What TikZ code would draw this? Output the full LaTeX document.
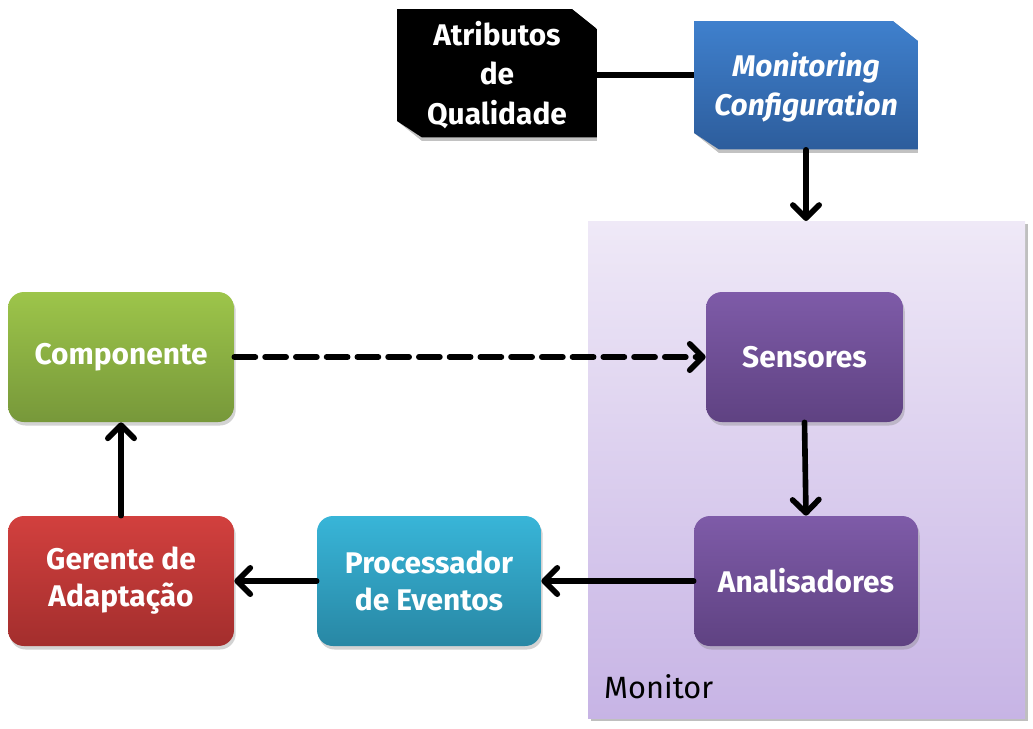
\documentclass[tikz,border=0pt]{standalone}
\usepackage{fontspec}
\setmainfont{Fira Sans}
\usetikzlibrary{arrows.meta,shadows}

\definecolor{violetA}{HTML}{7E5BA8}
\definecolor{violetB}{HTML}{5F4282}
\definecolor{greenA}{HTML}{9DC54A}
\definecolor{greenB}{HTML}{77983A}
\definecolor{redA}{HTML}{D2403E}
\definecolor{redB}{HTML}{A32E2D}
\definecolor{cyanA}{HTML}{38B5D8}
\definecolor{cyanB}{HTML}{2887A4}
\definecolor{blueA}{HTML}{3F80CD}
\definecolor{blueB}{HTML}{2D5D9C}
\definecolor{lilacA}{HTML}{EFE9F7}
\definecolor{lilacB}{HTML}{C7B4E5}

\begin{document}
\begin{tikzpicture}[x=0.02cm,y=-0.02cm,
  >={Straight Barb[round,length=7.5pt,width=15pt]},
  box/.style={rounded corners=9pt, minimum width=4.5cm, minimum height=2.6cm,
    align=center, text=white, font=\fontsize{17}{21}\selectfont\bfseries,
    drop shadow={shadow xshift=1pt, shadow yshift=-2pt, opacity=0.35}},
  snipbox/.style={minimum width=4cm, minimum height=2.64cm, inner sep=0pt,
    align=center, text=white, font=\fontsize{17}{22.5}\selectfont\bfseries,
    path picture={
      \fill[black!40, opacity=0.6, xshift=1pt, yshift=-2pt]
        (path picture bounding box.north west)
        -- ([xshift=-0.5cm]path picture bounding box.north east)
        -- ([yshift=-0.4cm]path picture bounding box.north east)
        -- (path picture bounding box.south east)
        -- ([xshift=0.5cm]path picture bounding box.south west)
        -- ([yshift=0.4cm]path picture bounding box.south west) -- cycle;
      \shade[#1]
        (path picture bounding box.north west)
        -- ([xshift=-0.5cm]path picture bounding box.north east)
        -- ([yshift=-0.4cm]path picture bounding box.north east)
        -- ([yshift=2pt]path picture bounding box.south east)
        -- ([xshift=0.5cm,yshift=2pt]path picture bounding box.south west)
        -- ([yshift=0.4cm]path picture bounding box.south west) -- cycle;}},
  flow/.style={->, line width=3.2pt, line cap=round}]
\useasboundingbox (0,0) rectangle (1033,728);

% monitor region
\fill[black!25] (591,224) rectangle (1028,721);
\shade[top color=lilacA, bottom color=lilacB] (588,221) rectangle (1025,718);
\node[anchor=south west, font=\fontsize{17.5}{21}\selectfont] (monlabel) at (598,705) {Monitor};
\coordinate (montop) at (806,221);

% nodes
\node[snipbox={top color=black, bottom color=black}] (atrib) at (497,75) {Atributos\\de\\Qualidade};
\node[snipbox={top color=blueA, bottom color=blueB}, minimum width=4.48cm,
  font=\fontsize{17}{22.5}\selectfont\bfseries\itshape] (config) at (806,87) {Monitoring\\Configuration};
\node[box, minimum width=3.94cm, top color=violetA, bottom color=violetB] (sens) at (804.5,357) {Sensores};
\node[box, minimum width=4.48cm, top color=violetA, bottom color=violetB] (anal) at (806,581) {Analisadores};
\node[box, minimum width=4.52cm, top color=greenA, bottom color=greenB] (comp) at (121,357) {Componente};
\node[box, minimum width=4.52cm, top color=redA, bottom color=redB] (ger) at (121,581) {Gerente de\\Adaptação};
\node[box, minimum width=4.48cm, top color=cyanA, bottom color=cyanB] (proc) at (429,581) {Processador\\de Eventos};

% connectors
\draw[line width=3.2pt] (atrib.east) -- (atrib.east -| config.west);
\draw[flow] ([yshift=2pt]config.south) -- (montop);
\draw[flow, dash pattern=on 12pt off 5.5pt] (comp.east) -- (sens.west);
\draw[flow] (sens.south) -- (anal.north);
\draw[flow] (anal.west) -- (proc.east);
\draw[flow] (proc.west) -- (ger.east);
\draw[flow] (ger.north) -- (comp.south);
\end{tikzpicture}
\end{document}
